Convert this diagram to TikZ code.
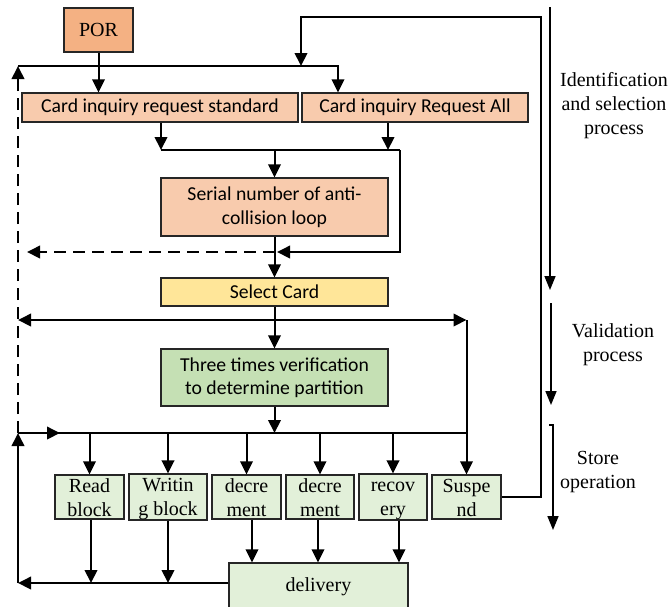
\documentclass[tikz,border=0pt]{standalone}
\usepackage{fontspec}
\setmainfont{Liberation Serif}
\newfontfamily\calfont{Carlito}
\usetikzlibrary{arrows.meta}
\definecolor{porc}{HTML}{F4B183}
\definecolor{peach}{HTML}{F8CBAD}
\definecolor{yel}{HTML}{FFE699}
\definecolor{grn}{HTML}{C5E0B4}
\definecolor{lgrn}{HTML}{E2F0D9}
\newcommand\sta{\rule{0pt}{17.5pt}}
\newcommand\stb{\rule[-2.5pt]{0pt}{2.5pt}}
\begin{document}
\begin{tikzpicture}[x=1pt,y=-1pt,
  box/.style={draw=black!85, line width=1.3pt, inner sep=0pt, align=center},
  tm/.style={font=\fontsize{20}{24}\selectfont},
  cb/.style={font=\calfont\fontsize{19.7}{23.5}\selectfont},
  ln/.style={line width=2pt},
  tip/.tip={Triangle[length=13pt,width=12.5pt]},
  arr/.style={ln, -tip},
  dsh/.style={dash pattern=on 12pt off 7pt},
  parr/.style={line width=1.6pt, -{Triangle[length=14pt,width=11pt]}},
  small/.style={box, tm, fill=lgrn, minimum height=44pt}
]
\useasboundingbox (0,0) rectangle (669,606);

% nodes
\node[box,tm,fill=porc,minimum width=69pt,minimum height=44pt] (por) at (98.5,30) {POR};
\node[box,cb,fill=peach,minimum width=276pt,minimum height=29pt] (std) at (160,107.5) {Card inquiry request standard};
\node[box,cb,fill=peach,minimum width=226pt,minimum height=29pt] (all) at (415,107.5) {Card inquiry Request All};
\node[box,cb,fill=peach,minimum width=227pt,minimum height=58pt] (serial) at (274.5,207) {Serial number of anti-\\collision loop};
\node[box,cb,fill=yel,minimum width=227pt,minimum height=28pt] (select) at (274.5,292) {Select Card};
\node[box,cb,fill=grn,minimum width=227pt,minimum height=57pt] (three) at (274.5,377.5) {Three times verification\\to determine partition};

\node[small,minimum width=69pt] (read) at (89.5,497) {\sta Read\\\stb block};
\node[small,minimum width=78pt] (write) at (168,497) {\sta Writin\\\stb g block};
\node[small,minimum width=69pt] (dec1) at (246.5,497) {\sta decre\\\stb ment};
\node[small,minimum width=68pt] (dec2) at (320,497) {\sta decre\\\stb ment};
\node[small,minimum width=68pt] (rec) at (393,497) {\sta recov\\\stb ery};
\node[small,minimum width=69pt] (susp) at (466.5,497) {\sta Suspe\\\stb nd};
\node[box,tm,fill=lgrn,minimum width=179pt,minimum height=48pt] (deliv) at (318.5,587) {delivery};

\node[tm,align=center,inner sep=0pt] (lab1) at (614,106) {Identification\\and selection\\process};
\node[tm,align=center,inner sep=0pt] (lab2) at (613,345) {Validation\\process};
\node[tm,align=center,inner sep=0pt] (lab3) at (598,472) {Store\\operation};

% coordinates
\coordinate (tl) at (18,66);
\coordinate (t1) at (338,66);
\coordinate (s1) at (161,150);
\coordinate (s2) at (388,150);
\coordinate (s3) at (400,150);
\coordinate (s4) at (400,252);
\coordinate (s5) at (274.5,150);
\coordinate (m252) at (274.5,252);
\coordinate (m252r) at (277,252);
\coordinate (d252) at (27,252);
\coordinate (l320) at (18,320);
\coordinate (r320) at (466.5,320);
\coordinate (l433) at (18,433);
\coordinate (a433) at (60,433);
\coordinate (b433) at (274.5,433);
\coordinate (r433) at (466.5,433);
\coordinate (l583) at (18,583);
\coordinate (f1) at (541,497);
\coordinate (f2) at (541,17);
\coordinate (f3) at (301,17);
\coordinate (f4) at (301,66);
\coordinate (p1a) at (550,7);
\coordinate (p1b) at (550,290);
\coordinate (p2a) at (551,303);
\coordinate (p2b) at (551,405);
\coordinate (p3a) at (553,425);
\coordinate (p3b) at (553,530);
\coordinate (p3t) at (549,425);

% top section
\draw[arr] (tl) -| (all.north -| t1);
\draw[arr] (por.south) -- (por.south |- std.north);
\draw[ln,dsh,-tip] (l433) -- (tl);
\draw[arr] (susp.east) -- (f1) -- (f2) -- (f3) -- (f4);

\draw[arr] (s1 |- std.south) -- (s1);
\draw[arr] (s2 |- all.south) -- (s2);
\draw[ln] (s1) -- (s3);
\draw[arr] (s3) -- (s4) -- (m252r);
\draw[arr] (s5) -- (serial.north);
\draw[ln,dsh,-tip] (m252) -- (d252);
\draw[arr] (serial.south) -- (select.north);
\draw[arr] (select.south) -- (three.north);
\draw[ln,tip-tip] (l320) -- (r320);
\draw[arr] (r320) -- (susp.north);
\draw[arr] (three.south) -- (b433);
\draw[ln] (l433) -- (r433);
\draw[arr] (l433) -- (a433);
\foreach \n in {read,write,dec1,dec2,rec}{
  \draw[arr] (\n.north |- l433) -- (\n.north);
}

% bottom
\path (read.south) ++(1.5,0) coordinate (rd);
\path (write.south) coordinate (wr);
\path (dec1.south) ++(5.5,0) coordinate (e1);
\path (dec2.south) ++(-2,0) coordinate (e2);
\path (rec.south) ++(6,0) coordinate (e3);
\draw[arr] (rd) -- (rd |- l583);
\draw[arr] (wr) -- (wr |- l583);
\draw[arr] (e1) -- (e1 |- deliv.north);
\draw[arr] (e2) -- (e2 |- deliv.north);
\draw[arr] (e3) -- (e3 |- deliv.north);
\draw[arr] (deliv.west |- l583) -- (l583);
\draw[arr] (l583) -- (l433);

% process arrows
\draw[parr] (p1a) -- (p1b);
\draw[parr] (p2a) -- (p2b);
\draw[parr] (p3t) -- (p3a) -- (p3b);
\end{tikzpicture}
\end{document}
